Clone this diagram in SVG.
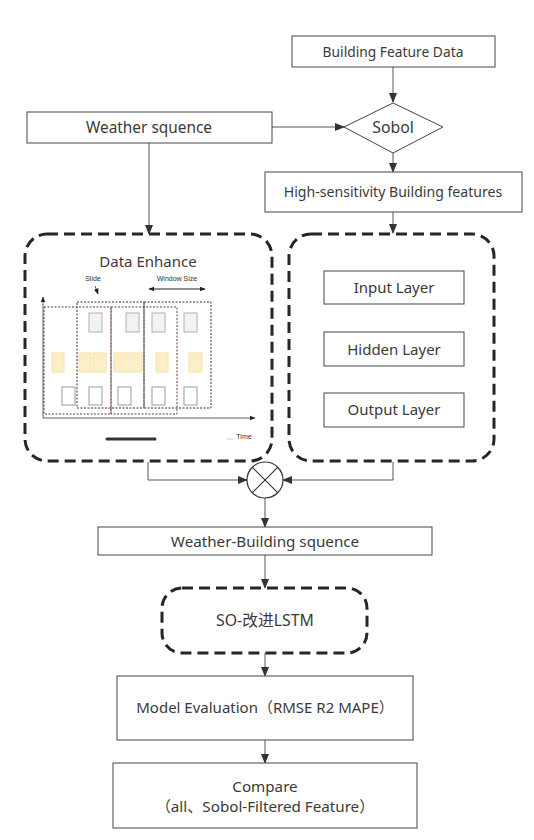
<svg xmlns="http://www.w3.org/2000/svg" width="534" height="840" viewBox="0 0 534 840">
<defs>
<marker id="ah" markerUnits="userSpaceOnUse" markerWidth="10" markerHeight="10" viewBox="0 0 10 10" refX="9" refY="5" orient="auto">
<path d="M0,1 L10,5 L0,9 Z" fill="#333"/>
</marker>
<marker id="sa" markerUnits="userSpaceOnUse" markerWidth="6" markerHeight="6" viewBox="0 0 10 10" refX="9" refY="5" orient="auto">
<path d="M0,1 L10,5 L0,9 Z" fill="#222"/>
</marker>
<marker id="sas" markerUnits="userSpaceOnUse" markerWidth="6" markerHeight="6" viewBox="0 0 10 10" refX="1" refY="5" orient="auto">
<path d="M10,1 L0,5 L10,9 Z" fill="#222"/>
</marker>
</defs>
<style>
.box{fill:#fff;stroke:#444;stroke-width:1}
.dash{fill:#fff;stroke:#23272b;stroke-width:3;stroke-dasharray:11 6}
.t{font-family:"Noto Sans","Noto Sans CJK SC",sans-serif;fill:#3a3a3a;text-anchor:middle;dominant-baseline:central}
.c{fill:none;stroke:#555;stroke-width:1}
.win{fill:none;stroke:#333;stroke-width:1;stroke-dasharray:2 1.5}
.winr{fill:none;stroke:#6b3b3b;stroke-width:1;stroke-dasharray:2 1.5}
.g{fill:#f2f2f2;stroke:#b0b0b0;stroke-width:1}
.y{fill:#fcefc6;stroke:#f3e2ae;stroke-width:1}
.w{fill:#fff;stroke:#9a9a9a;stroke-width:1}
.s{font-family:"Liberation Sans Narrow","Liberation Sans",sans-serif;fill:#333;text-anchor:middle;dominant-baseline:central;font-size:7px}
</style>
<rect width="534" height="840" fill="#fff"/>

<g id="connectors">
<path class="c" d="M393,67 V102" marker-end="url(#ah)"/>
<path class="c" d="M272,127 H344" marker-end="url(#ah)"/>
<path class="c" d="M149,143 V234" marker-end="url(#ah)"/>
<path class="c" d="M393,153 V172" marker-end="url(#ah)"/>
<path class="c" d="M393,212 V233" marker-end="url(#ah)"/>
<path class="c" d="M148,462 V480 H247" marker-end="url(#ah)"/>
<path class="c" d="M393,462 V480 H283" marker-end="url(#ah)"/>
<path class="c" d="M265,498 V527" marker-end="url(#ah)"/>
<path class="c" d="M265,555 V588" marker-end="url(#ah)"/>
<path class="c" d="M265,653 V676" marker-end="url(#ah)"/>
<path class="c" d="M265,740 V763" marker-end="url(#ah)"/>
</g>

<g id="building-feature-data">
<rect class="box" x="292" y="36" width="203" height="31"/>
<text class="t" x="393" y="51" font-size="13.8">Building Feature Data</text>
</g>

<g id="sobol">
<polygon class="box" points="393,103 443,127 393,153 344,127"/>
<text class="t" x="393" y="127" font-size="15.8">Sobol</text>
</g>

<g id="weather-sequence">
<rect class="box" x="27" y="112" width="245" height="31"/>
<text class="t" x="149" y="127" font-size="15.4">Weather squence</text>
</g>

<g id="high-sensitivity">
<rect class="box" x="265" y="172" width="257" height="40"/>
<text class="t" x="393" y="191" font-size="14.1">High-sensitivity Building features</text>
</g>

<g id="data-enhance">
<rect class="dash" x="25" y="234" width="247" height="227" rx="22"/>
<text class="t" x="148" y="261" font-size="15">Data Enhance</text>
<text class="s" x="93" y="278">Slide</text>
<path d="M95,286 L98,294" stroke="#222" stroke-width="0.8" fill="none" marker-end="url(#sa)"/>
<text class="s" x="177" y="278">Window Size</text>
<path d="M149,289 H205" stroke="#222" stroke-width="1" fill="none" marker-start="url(#sas)" marker-end="url(#sa)"/>
<path d="M43,418 V297" stroke="#333" stroke-width="0.8" fill="none" marker-end="url(#sa)"/>
<path d="M43,418 H255" stroke="#333" stroke-width="0.8" fill="none" marker-end="url(#sa)"/>
<rect class="g" x="89" y="313" width="13" height="19"/>
<rect class="g" x="126" y="313" width="13" height="19"/>
<rect class="g" x="152" y="313" width="13" height="19"/>
<rect class="g" x="184" y="313" width="13" height="19"/>
<rect class="y" x="52" y="353" width="12" height="19"/>
<rect class="y" x="79" y="353" width="12" height="19"/>
<rect class="y" x="93" y="353" width="13" height="19"/>
<rect class="y" x="114" y="353" width="13" height="19"/>
<rect class="y" x="129" y="353" width="13" height="19"/>
<rect class="y" x="156" y="353" width="12" height="19"/>
<rect class="y" x="189" y="353" width="13" height="19"/>
<rect class="w" x="62" y="387" width="13" height="18"/>
<rect class="w" x="89" y="387" width="13" height="18"/>
<rect class="w" x="118" y="387" width="13" height="18"/>
<rect class="w" x="152" y="387" width="13" height="18"/>
<rect class="w" x="184" y="387" width="13" height="18"/>
<rect class="winr" x="44" y="307" width="67" height="107"/>
<rect class="win" x="77" y="302" width="67" height="106"/>
<rect class="winr" x="111" y="307" width="66" height="107"/>
<rect class="win" x="144" y="302" width="67" height="106"/>
<path d="M107,439 H155" stroke="#333" stroke-width="3" stroke-linecap="round" fill="none"/>
<path d="M227,439 H233" stroke="#ccc" stroke-width="1" fill="none"/>
<text class="s" x="244" y="436">Time</text>
</g>

<g id="lstm-layers">
<rect class="dash" x="289" y="234" width="205" height="227" rx="22"/>
<rect class="box" x="324" y="271" width="140" height="33"/>
<text class="t" x="394" y="287" font-size="15">Input Layer</text>
<rect class="box" x="324" y="332" width="140" height="34"/>
<text class="t" x="394" y="349" font-size="15">Hidden Layer</text>
<rect class="box" x="324" y="393" width="140" height="34"/>
<text class="t" x="394" y="409" font-size="15">Output Layer</text>
</g>

<g id="multiply">
<circle cx="265" cy="480" r="18" fill="#fff" stroke="#333" stroke-width="1.2"/>
<path d="M252.3,467.3 L277.7,492.7 M277.7,467.3 L252.3,492.7" stroke="#333" stroke-width="1.2"/>
</g>

<g id="weather-building">
<rect class="box" x="98" y="527" width="334" height="28"/>
<text class="t" x="265" y="541" font-size="15.2">Weather-Building squence</text>
</g>

<g id="so-lstm">
<rect class="dash" x="162" y="588" width="205" height="65" rx="20"/>
<text class="t" x="265" y="620" font-size="15.8">SO-改进LSTM</text>
</g>

<g id="model-evaluation">
<rect class="box" x="117" y="676" width="296" height="64"/>
<text class="t" x="265" y="707" font-size="15">Model Evaluation（RMSE R2 MAPE）</text>
</g>

<g id="compare">
<rect class="box" x="113" y="763" width="304" height="65"/>
<text class="t" x="265" y="786" font-size="15.2">Compare</text>
<text class="t" x="265" y="806" font-size="15.2">（all、Sobol-Filtered Feature）</text>
</g>
</svg>
